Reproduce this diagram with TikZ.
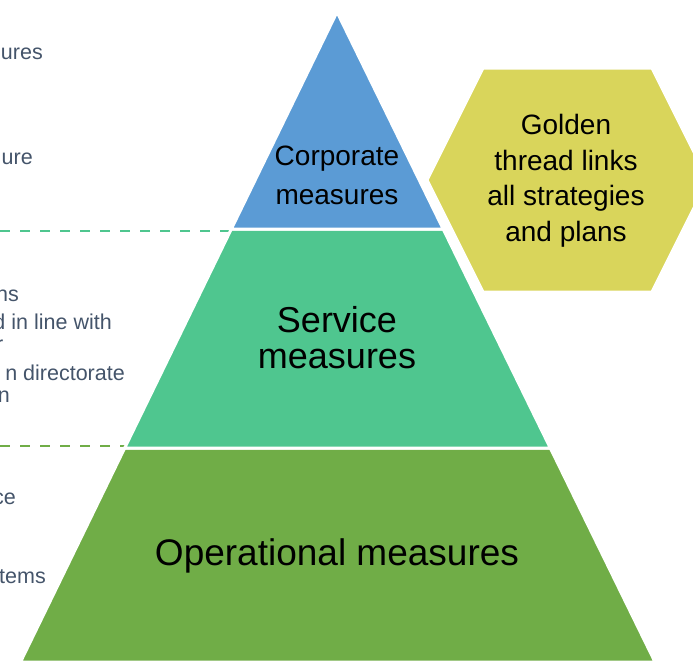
\documentclass[tikz,border=0pt]{standalone}
\usepackage{fontspec}
\setmainfont{Liberation Sans}
\usetikzlibrary{positioning, calc}
\definecolor{corpblue}{HTML}{5B9BD5}
\definecolor{servgreen}{HTML}{4FC68F}
\definecolor{opgreen}{HTML}{70AD47}
\definecolor{goldhex}{HTML}{D9D55B}
\definecolor{sidetext}{HTML}{44546A}

\begin{document}
\begin{tikzpicture}[
    x=1pt, y=-1pt,
    every node/.style={font=\rmfamily},
    layer/.style={draw=white, line width=3pt, line join=miter},
    layerlabel/.style={align=center, inner sep=0pt, text=black},
    sidenote/.style={anchor=base east, inner sep=0pt, text=sidetext, font=\fontsize{21.5}{26}\selectfont},
    divider/.style={dashed, dash pattern=on 10pt off 10pt, line width=2.2pt},
]
\useasboundingbox (0,0) rectangle (693,662);

% Pyramid corners
\coordinate (apex) at (337,12);
\coordinate (bl) at (20.5,662);
\coordinate (br) at (655,662);

% Band boundaries along the sides
\coordinate (l1) at ($(apex)!0.334!(bl)$);
\coordinate (r1) at ($(apex)!0.334!(br)$);
\coordinate (l2) at ($(apex)!0.671!(bl)$);
\coordinate (r2) at ($(apex)!0.671!(br)$);

% Dashed dividers
\draw[divider, servgreen] (0,231) -- (l1 |- 0,231);
\draw[divider, opgreen] (0,446) -- (l2 |- 0,446);

% Pyramid bands
\filldraw[layer, fill=opgreen] (l2) -- (r2) -- (br) -- (bl) -- cycle;
\filldraw[layer, fill=servgreen] (l1) -- (r1) -- (r2) -- (l2) -- cycle;
\filldraw[layer, fill=corpblue] (apex) -- (r1) -- (l1) -- cycle;

% Hexagon
\filldraw[layer, fill=goldhex] (427,180) -- (483,68) -- (652,68) -- (708,180) -- (652,292) -- (483,292) -- cycle;

% Labels
\node[layerlabel, font=\fontsize{28}{39}\selectfont] (corp) at (337,175) {Corporate\\measures};
\node[layerlabel, font=\fontsize{36}{36}\selectfont] (serv) at (337,338) {Service\\measures};
\node[layerlabel, font=\fontsize{37}{40}\selectfont] (oper) at (337,556) {Operational measures};
\node[layerlabel, font=\fontsize{28}{35.5}\selectfont] (thread) at (566,181) {Golden\\thread links\\all strategies\\and plans};

% Cut-off side notes
\node[sidenote] (noteA) at (43,59) {ures};
\node[sidenote] (noteB) at (33,164) {ure};
\node[sidenote] (noteC) at (19,301) {ns};
\node[sidenote] (noteD) at (112,329) {d in line with};
\node[sidenote] (noteE) at (3.5,351) {r};
\node[sidenote] (noteF) at (125,380) {n directorate};
\node[sidenote] (noteG) at (10,402) {n};
\node[sidenote] (noteH) at (16,504) {ce};
\node[sidenote] (noteI) at (46,583) {tems};
\end{tikzpicture}
\end{document}
